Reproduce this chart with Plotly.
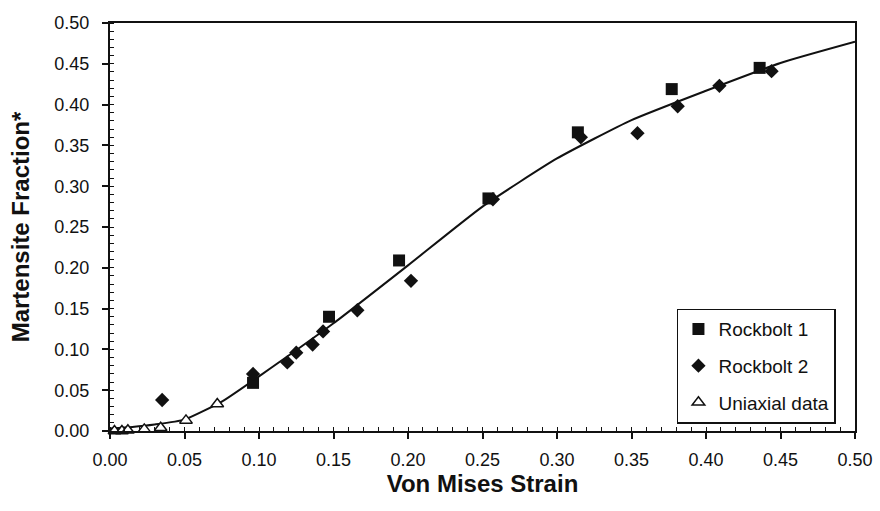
import plotly.graph_objects as go

# Rockbolt 1 (filled squares)
rb1_x = [0.096, 0.147, 0.194, 0.254, 0.314, 0.377, 0.436]
rb1_y = [0.059, 0.140, 0.209, 0.285, 0.366, 0.419, 0.445]

# Rockbolt 2 (filled diamonds)
rb2_x = [0.035, 0.096, 0.119, 0.125, 0.136, 0.143, 0.166, 0.202, 0.257, 0.316, 0.354, 0.381, 0.409, 0.444]
rb2_y = [0.038, 0.070, 0.084, 0.096, 0.106, 0.122, 0.148, 0.184, 0.284, 0.360, 0.365, 0.398, 0.423, 0.441]

# Uniaxial data (open triangles)
uni_x = [0.003, 0.008, 0.012, 0.023, 0.034, 0.051, 0.072]
uni_y = [0.000, 0.000, 0.001, 0.002, 0.004, 0.013, 0.033]

# Fitted curve
fit_x = [0.0, 0.015, 0.03, 0.05, 0.075, 0.10, 0.15, 0.20, 0.25, 0.30, 0.35, 0.40, 0.45, 0.50]
fit_y = [0.003, 0.005, 0.008, 0.014, 0.036, 0.067, 0.132, 0.203, 0.275, 0.334, 0.381, 0.417, 0.451, 0.477]

tick_vals = [0.0, 0.05, 0.10, 0.15, 0.20, 0.25, 0.30, 0.35, 0.40, 0.45, 0.50]

FONT = "Liberation Sans, Arial, sans-serif"
INK = "#111111"

fig = go.Figure()
fig.add_trace(go.Scatter(x=fit_x, y=fit_y, mode="lines", line=dict(color=INK, width=2, shape="spline", smoothing=0.5),
                         showlegend=False, hoverinfo="skip", cliponaxis=True))
fig.add_trace(go.Scatter(x=rb1_x, y=rb1_y, mode="markers", name="Rockbolt 1", legendgroup="a",
                         marker=dict(symbol="square", size=12, color=INK), cliponaxis=False))
fig.add_trace(go.Scatter(x=rb2_x, y=rb2_y, mode="markers", name="Rockbolt 2", legendgroup="b",
                         marker=dict(symbol="diamond", size=11, color=INK), cliponaxis=False))
fig.add_trace(go.Scatter(x=uni_x, y=uni_y, mode="markers", name="Uniaxial data", legendgroup="c",
                         marker=dict(symbol="triangle-up", size=11, color="white", line=dict(color=INK, width=1.5)),
                         cliponaxis=False))

axis_common = dict(
    range=[0, 0.5], tickvals=tick_vals, tickformat=".2f",
    showline=True, linecolor=INK, linewidth=2, mirror=True,
    ticks="outside", ticklen=6, tickwidth=1.5, tickcolor=INK,
    minor=dict(dtick=0.01, ticks="inside", ticklen=4, tickwidth=1, tickcolor=INK),
    showgrid=False, zeroline=False, automargin=False,
    tickfont=dict(family=FONT, size=18, color=INK),
)

fig.update_xaxes(**axis_common, ticklabelstandoff=5,
                 title=dict(text="<b>Von Mises Strain</b>", font=dict(family=FONT, size=24, color=INK), standoff=6))
fig.update_yaxes(**axis_common, ticklabelstandoff=9,
                 title=dict(text="<b>Martensite Fraction*</b>", font=dict(family=FONT, size=24, color=INK), standoff=18))

fig.update_layout(
    width=880, height=511,
    margin=dict(l=110, r=25, t=23, b=80),
    paper_bgcolor="white", plot_bgcolor="white",
    font=dict(family=FONT, color=INK),
    legend=dict(x=0.761, y=0.30, xanchor="left", yanchor="top",
                bgcolor="white", bordercolor=INK, borderwidth=1.5,
                font=dict(family=FONT, size=19, color=INK),
                tracegroupgap=9, itemwidth=30),
)

fig.write_html("out.html")
